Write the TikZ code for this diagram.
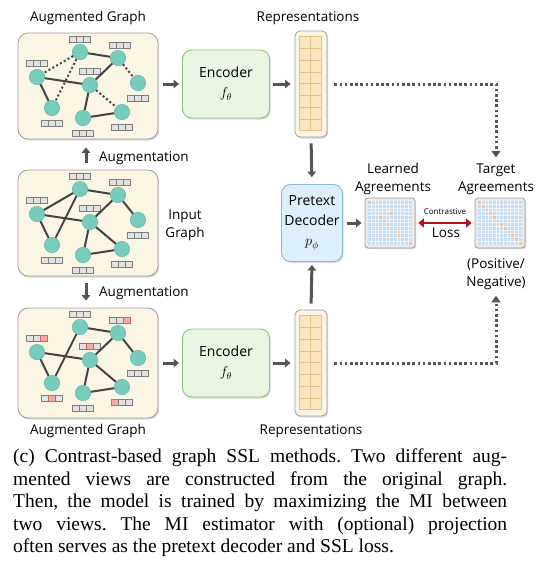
\documentclass[tikz,border=0pt]{standalone}
\usepackage{fontspec}
\setmainfont{Liberation Serif}
\newfontfamily\labelfont{Open Sans}
\usepackage{tikz}
\usetikzlibrary{arrows.meta, shadows, calc}

\definecolor{cream}{HTML}{FBF5E4}
\definecolor{boxgray}{HTML}{9E9E9E}
\definecolor{nodeteal}{HTML}{78CCBE}
\definecolor{tealdark}{HTML}{5DB3A4}
\definecolor{edgegray}{HTML}{444444}
\definecolor{cellfill}{HTML}{E2E2E2}
\definecolor{cellgray}{HTML}{7E7E7E}
\definecolor{maskfill}{HTML}{F3ABA3}
\definecolor{maskred}{HTML}{C96A6A}
\definecolor{encfill}{HTML}{E9F6E1}
\definecolor{encline}{HTML}{93C27E}
\definecolor{decfill}{HTML}{DCEFFA}
\definecolor{decline}{HTML}{8CB9D6}
\definecolor{repfill}{HTML}{FBE4BE}
\definecolor{repline}{HTML}{E3C28B}
\definecolor{matblue}{HTML}{C8DCF2}
\definecolor{matorange}{HTML}{F4C49A}
\definecolor{arrgray}{HTML}{555555}
\definecolor{lossred}{HTML}{B5121B}

% graph nodes, laid out from the top of their box
\newcommand{\graphnodes}[2]{%
  \node[gnode] (#1-1) at (80,#2+19) {};
  \node[gnode] (#1-2) at (118,#2+25) {};
  \node[gnode] (#1-3) at (37,#2+44) {};
  \node[gnode] (#1-4) at (90,#2+52) {};
  \node[gnode] (#1-5) at (138,#2+50) {};
  \node[gnode] (#1-6) at (52,#2+75) {};
  \node[gnode] (#1-7) at (83,#2+85) {};
  \node[gnode] (#1-8) at (122,#2+79) {};
}
% feature vector of three cells
\newcommand{\featvec}[5]{%
  \draw[#3] (#1-10.5,#2-3) rectangle ++(7,6);
  \draw[#4] (#1-3.5,#2-3) rectangle ++(7,6);
  \draw[#5] (#1+3.5,#2-3) rectangle ++(7,6);
}

\begin{document}
\begin{tikzpicture}[x=1pt, y=-1pt,
    lbl/.style={font=\labelfont\fontsize{13.5}{18}\selectfont, align=center, inner sep=0pt},
    gbox/.style={draw=boxgray, fill=cream, rounded corners=10pt, line width=0.8pt,
      minimum width=140pt, minimum height=106pt,
      drop shadow={shadow xshift=1.2pt, shadow yshift=-1.5pt, opacity=0.3}},
    gnode/.style={circle, fill=nodeteal, draw=tealdark, line width=0.4pt, minimum size=15.5pt, inner sep=0pt},
    gedge/.style={draw=edgegray, line width=2pt},
    dropedge/.style={gedge, dash pattern=on 2pt off 2.4pt},
    fcell/.style={draw=cellgray, fill=cellfill, line width=0.6pt},
    mcell/.style={draw=maskred, fill=maskfill, line width=0.6pt},
    encbox/.style={draw=encline, fill=encfill, rounded corners=9pt, line width=0.9pt,
      minimum width=87pt, minimum height=68pt, align=center,
      font=\labelfont\fontsize{14}{20}\selectfont,
      drop shadow={shadow xshift=1.2pt, shadow yshift=-1.5pt, opacity=0.3}},
    decbox/.style={draw=decline, fill=decfill, rounded corners=9pt, line width=0.9pt,
      minimum width=61pt, minimum height=77pt, align=center, inner sep=1pt,
      font=\labelfont\fontsize{14}{20}\selectfont,
      drop shadow={shadow xshift=1.2pt, shadow yshift=-1.5pt, opacity=0.3}},
    repbox/.style={draw=boxgray, fill=cream, rounded corners=5pt, line width=0.8pt,
      minimum width=32pt, minimum height=106pt,
      drop shadow={shadow xshift=1.2pt, shadow yshift=-1.5pt, opacity=0.3}},
    repcell/.style={draw=repline, fill=repfill, line width=0.7pt},
    matbox/.style={draw=boxgray, fill=white!92!black, rounded corners=3pt, line width=0.8pt,
      minimum size=50pt,
      drop shadow={shadow xshift=1pt, shadow yshift=-1.2pt, opacity=0.3}},
    arr/.style={draw=arrgray, line width=3pt, -{Triangle[length=5.5pt, width=8.5pt]}},
    dotarr/.style={draw=arrgray, line width=3pt, dash pattern=on 2.6pt off 2.6pt,
      -{Triangle[length=6.5pt, width=9pt]}},
    lossarr/.style={draw=lossred, line width=2.8pt, {Triangle[length=5.5pt, width=9pt]}-{Triangle[length=5.5pt, width=9pt]}},
    caption/.style={anchor=north west, inner sep=0pt, text width=494pt, align=justify,
      font=\fontsize{19.5}{22.5}\selectfont\frenchspacing}
  ]
  \useasboundingbox (0,0) rectangle (553,566);

  % three graphs
  \node[gbox] (ubox) at (88,86) {};
  \node[gbox] (sbox) at (88,223) {};
  \node[gbox, minimum height=110pt] (lbox) at (88,363) {};

  \foreach \fx/\fy in {80/6, 120/12, 37/30, 90/38, 138/65, 52/90, 83/100, 122/94} {
    \featvec{\fx}{33+\fy}{fcell}{fcell}{fcell}
    \featvec{\fx}{170+\fy}{fcell}{fcell}{fcell}
  }
  \foreach \fx/\fy/\ca/\cb/\cc in {80/6/fcell/fcell/fcell, 120/12/fcell/fcell/mcell,
      37/30/fcell/fcell/mcell, 90/38/fcell/mcell/fcell, 138/65/fcell/fcell/fcell,
      52/90/fcell/mcell/fcell, 83/100/fcell/fcell/fcell, 122/94/mcell/fcell/fcell} {
    \featvec{\fx}{308+\fy}{\ca}{\cb}{\cc}
  }

  \graphnodes{up}{33}
  \graphnodes{src}{170}
  \graphnodes{lo}{308}

  \draw[gedge] (up-1) -- (up-2) (up-3) -- (up-4) (up-2) -- (up-4) (up-3) -- (up-6)
    (up-4) -- (up-7) (up-7) -- (up-8);
  \draw[dropedge] (up-1) -- (up-3) (up-1) -- (up-6) (up-2) -- (up-5) (up-4) -- (up-8);

  \draw[gedge] (src-1) -- (src-2) (src-1) -- (src-3) (src-1) -- (src-6) (src-3) -- (src-4)
    (src-2) -- (src-4) (src-2) -- (src-5) (src-3) -- (src-6) (src-4) -- (src-7)
    (src-4) -- (src-8) (src-7) -- (src-8);

  \draw[gedge] (lo-1) -- (lo-2) (lo-1) -- (lo-6) (lo-3) -- (lo-4) (lo-2) -- (lo-4)
    (lo-2) -- (lo-5) (lo-3) -- (lo-6) (lo-4) -- (lo-7) (lo-4) -- (lo-8) (lo-7) -- (lo-8);

  \node[lbl] (ulbl) at (88,18) {Augmented Graph};
  \node[lbl] (llbl) at (88,431) {Augmented Graph};
  \node[lbl] (slbl) at (185,225) {Input\\Graph};
  \node[lbl, anchor=west] (aug1) at (99,158) {Augmentation};
  \node[lbl, anchor=west] (aug2) at (99,293) {Augmentation};
  \draw[arr, shorten <=7pt, shorten >=8pt] (sbox.north -| aug1.west) ++(-13,0) coordinate (a1) -- (a1 |- ubox.south);
  \draw[arr, shorten <=7pt, shorten >=7pt] (sbox.south -| aug2.west) ++(-13,0) coordinate (a2) -- (a2 |- lbox.north);

  % encoders and representations
  \node[encbox] (enc1) at (226,84) {Encoder\\$f_\theta$};
  \node[encbox] (enc2) at (226,363) {Encoder\\$f_\theta$};
  \node[repbox] (rep1) at (311,84) {};
  \node[repbox] (rep2) at (311,363) {};
  \foreach \r in {0,...,7}
    \foreach \c in {0,1} {
      \draw[repcell] ($(rep1.north west)+(5+\c*11,6+\r*11.75)$) rectangle ++(11,11.75);
      \draw[repcell] ($(rep2.north west)+(5+\c*11,6+\r*11.75)$) rectangle ++(11,11.75);
    }
  \node[lbl] (rlbl1) at (308,18) {Representations};
  \node[lbl] (rlbl2) at (311,431) {Representations};

  \draw[arr, shorten <=5pt, shorten >=3pt] (ubox.east |- enc1) -- (enc1.west);
  \draw[arr, shorten <=5pt, shorten >=3pt] (lbox.east |- enc2) -- (enc2.west);
  \draw[arr, shorten <=3pt, shorten >=4pt] (enc1.east) -- (rep1.west);
  \draw[arr, shorten <=3pt, shorten >=4pt] (enc2.east) -- (rep2.west);

  % decoder and agreements
  \node[decbox] (dec) at (312,223) {Pretext\\Decoder\\$p_\phi$};
  \node[matbox] (learn) at (390,223) {};
  \node[matbox] (tgt) at (500,223) {};
  \foreach \m in {learn, tgt} {
    \fill[matblue] ($(\m.north west)+(3,3)$) rectangle ($(\m.south east)+(-3,-3)$);
  }
  \foreach \c/\r in {0/0, 6/3, 3/4, 4/5, 5/6, 8/8, 8/9, 11/11}
    \fill[matorange] ($(learn.north west)+(3+\c*3.667,3+\r*3.667)$) rectangle ++(3.667,3.667);
  \foreach \c in {0,...,11}
    \fill[matorange] ($(tgt.north west)+(3+\c*3.667,3+\c*3.667)$) rectangle ++(3.667,3.667);
  \foreach \m in {learn, tgt}
    \foreach \i in {1,...,11} {
      \draw[white!70!matblue, line width=0.3pt] ($(\m.north west)+(3+\i*3.667,3)$) -- ++(0,44);
      \draw[white!70!matblue, line width=0.3pt] ($(\m.north west)+(3,3+\i*3.667)$) -- ++(44,0);
    }

  \node[lbl] (llab) at (393,179) {Learned\\Agreements};
  \node[lbl] (tlab) at (496,179) {Target\\Agreements};
  \node[lbl] (plab) at (496,274) {(Positive/\\Negative)};
  \node[lbl, font=\labelfont\fontsize{8}{9}\selectfont] (con) at (445,212) {Contrastive};
  \node[lbl] (loss) at (446,233) {Loss};

  \draw[arr, shorten <=6pt, shorten >=7pt] (rep1.south) -- (dec.north);
  \draw[arr, shorten <=6pt, shorten >=3pt] (rep2.north) -- (dec.south);
  \draw[arr, shorten <=4pt, shorten >=3pt] (dec.east) -- (learn.west);
  \draw[lossarr, shorten <=3pt, shorten >=3pt] (learn.east) -- (tgt.west);
  \draw[dotarr, shorten >=6pt] ([xshift=7pt]rep1.east) -| (tlab.north);
  \draw[dotarr, shorten >=6pt] ([xshift=7pt]rep2.east) -| (plab.south);

  % caption
  \node[caption] (cap) at (13,449) {(c) Contrast-based graph SSL methods. Two different aug-\linebreak
    mented views are constructed from the original graph.\linebreak
    Then, the model is trained by maximizing the MI between\linebreak
    two views. The MI estimator with (optional) projection\linebreak
    often serves as the pretext decoder and SSL loss.};
\end{tikzpicture}
\end{document}
